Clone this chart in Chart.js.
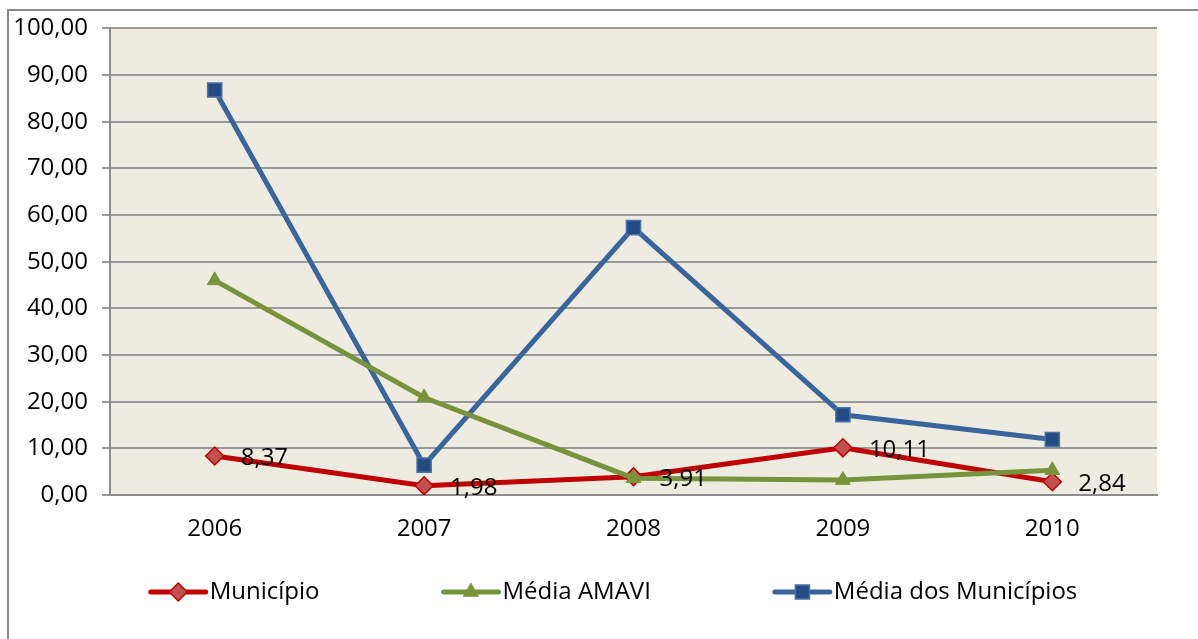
<!DOCTYPE html>
<html>
<head>
<meta charset="utf-8">
<script src="https://cdn.jsdelivr.net/npm/chart.js@4.4.0/dist/chart.umd.min.js"></script>
<style>
  html, body { margin: 0; padding: 0; background: #fff; }
  canvas { display: block; }
</style>
</head>
<body>
<canvas id="chart" width="1198" height="639"></canvas>
<script>
// values
const years = ['2006', '2007', '2008', '2009', '2010'];
const municipio = [8.37, 1.98, 3.91, 10.11, 2.84];
const mediaAmavi = [46.0, 20.9, 3.6, 3.2, 5.3];
const mediaMunicipios = [86.8, 6.4, 57.3, 17.2, 11.9];
const seriesNames = ['Município', 'Média AMAVI', 'Média dos Municípios'];

const FONT = '"Open Sans", sans-serif';
const FONT_SIZE = 24;
const fmt = v => v.toFixed(2).replace('.', ',');

// plot background + outer frame
const backdrop = {
  id: 'backdrop',
  beforeDraw(chart) {
    const { ctx, chartArea: a } = chart;
    ctx.save();
    ctx.fillStyle = '#EEEBE0';
    ctx.fillRect(a.left, a.top, a.right - a.left, a.bottom - a.top);
    ctx.strokeStyle = '#888';
    ctx.lineWidth = 2;
    ctx.beginPath();
    ctx.moveTo(8, 639);
    ctx.lineTo(8, 10);
    ctx.lineTo(1198, 10);
    ctx.stroke();
    ctx.restore();
  }
};

// value labels for the first series only
const valueLabels = {
  id: 'valueLabels',
  afterDatasetsDraw(chart) {
    const { ctx } = chart;
    const meta = chart.getDatasetMeta(0);
    ctx.save();
    ctx.font = FONT_SIZE + 'px ' + FONT;
    ctx.fillStyle = '#000';
    ctx.textAlign = 'left';
    ctx.textBaseline = 'middle';
    meta.data.forEach((pt, i) => {
      ctx.fillText(fmt(municipio[i]), pt.x + 26, pt.y + 2);
    });
    ctx.restore();
  }
};

// legend like the office one: line sample with marker in the middle
const lineLegend = {
  id: 'lineLegend',
  afterDraw(chart) {
    const { ctx } = chart;
    const ds = chart.data.datasets;
    const sample = 55, textGap = 4, itemGap = 124, cy = 592, cx = 614;
    ctx.save();
    ctx.font = FONT_SIZE + 'px ' + FONT;
    const widths = ds.map(d => ctx.measureText(d.label).width);
    let total = widths.reduce((s, w) => s + sample + textGap + w, 0) + itemGap * (ds.length - 1);
    let x = cx - total / 2;
    ds.forEach((d, i) => {
      ctx.strokeStyle = d.borderColor;
      ctx.lineWidth = 5;
      ctx.lineCap = 'round';
      ctx.beginPath();
      ctx.moveTo(x, cy);
      ctx.lineTo(x + sample, cy);
      ctx.stroke();
      ctx.fillStyle = d.pointBackgroundColor;
      ctx.strokeStyle = d.pointBorderColor;
      ctx.lineWidth = d.pointBorderWidth;
      Chart.helpers.drawPoint(ctx, {
        pointStyle: d.pointStyle, radius: d.pointRadius, rotation: 0, borderWidth: d.pointBorderWidth
      }, x + sample / 2, cy);
      ctx.fillStyle = '#000';
      ctx.textAlign = 'left';
      ctx.textBaseline = 'middle';
      ctx.fillText(d.label, x + sample + textGap, cy);
      x += sample + textGap + widths[i] + itemGap;
    });
    ctx.restore();
  }
};

new Chart(document.getElementById('chart'), {
  type: 'line',
  data: {
    labels: years,
    datasets: [
      {
        label: seriesNames[0],
        data: municipio,
        borderColor: '#C00000',
        borderWidth: 5,
        pointStyle: 'rectRot',
        pointRadius: 9,
        pointBackgroundColor: '#C0504D',
        pointBorderColor: '#C00000',
        pointBorderWidth: 1.5,
        order: 2
      },
      {
        label: seriesNames[1],
        data: mediaAmavi,
        borderColor: '#77933C',
        borderWidth: 5,
        pointStyle: 'triangle',
        pointRadius: 8.5,
        pointBackgroundColor: '#77933C',
        pointBorderColor: '#77933C',
        pointBorderWidth: 1,
        order: 0
      },
      {
        label: seriesNames[2],
        data: mediaMunicipios,
        borderColor: '#3A649C',
        borderWidth: 5,
        pointStyle: 'rect',
        pointRadius: 10,
        pointBackgroundColor: '#234C84',
        pointBorderColor: '#4A72A8',
        pointBorderWidth: 1.5,
        order: 1
      }
    ]
  },
  options: {
    responsive: false,
    animation: false,
    devicePixelRatio: 1,
    layout: { padding: { left: 0, right: 41, top: 25, bottom: 0 } },
    elements: { line: { tension: 0 } },
    plugins: {
      legend: { display: false },
      tooltip: { enabled: false },
      title: { display: false }
    },
    scales: {
      x: {
        offset: true,
        grid: { display: false, drawTicks: false, offset: true },
        border: { display: true, color: '#8c8c8c', width: 2 },
        ticks: { color: '#000', font: { family: FONT, size: FONT_SIZE }, padding: 20, maxRotation: 0 },
        afterFit(scale) { scale.height = 144; }
      },
      y: {
        min: 0,
        max: 100,
        ticks: {
          stepSize: 10,
          color: '#000',
          font: { family: FONT, size: FONT_SIZE },
          padding: 14,
          callback: v => fmt(v)
        },
        grid: { color: '#999', lineWidth: 2, tickLength: 8, drawTicks: true },
        border: { display: true, color: '#8c8c8c', width: 2 },
        afterFit(scale) { scale.width = 110; }
      }
    }
  },
  plugins: [backdrop, valueLabels, lineLegend]
});
</script>
</body>
</html>
